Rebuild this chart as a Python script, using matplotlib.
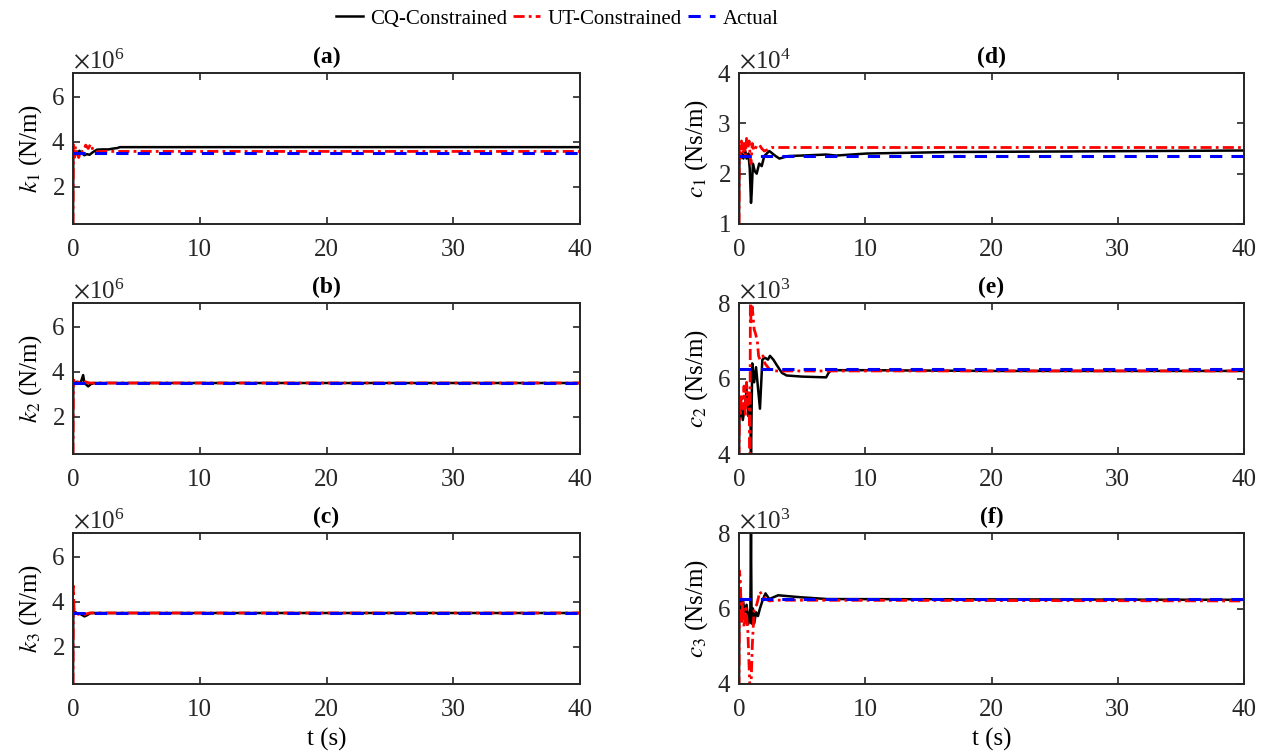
import numpy as np
import matplotlib.pyplot as plt

plt.rcParams['font.family'] = ['Liberation Serif', 'DejaVu Serif']
plt.rcParams['mathtext.fontset'] = 'stix'
plt.rcParams['axes.linewidth'] = 1.4
plt.rcParams['xtick.direction'] = 'in'
plt.rcParams['ytick.direction'] = 'in'

# time axis limits
t_end = 40

# ---- panel (a) k1, x1e6 ----
ta_cq = [0, 0.02, 0.1, 0.3, 0.5, 0.7, 0.9, 1.1, 1.3, 1.6, 1.9, 2.3, 2.8, 3.2, 3.5, 3.7, 40]
va_cq = [0.35, 3.3, 3.55, 3.45, 3.6, 3.5, 3.4, 3.45, 3.42, 3.55, 3.65, 3.66, 3.66, 3.7, 3.72, 3.76, 3.76]
ta_ut = [0, 0.03, 0.1, 0.2, 0.3, 0.45, 0.6, 0.8, 1.0, 1.2, 1.4, 1.6, 1.9, 2.3, 40]
va_ut = [0.35, 3.95, 3.3, 3.8, 3.5, 3.3, 3.6, 3.55, 3.85, 3.7, 3.9, 3.6, 3.55, 3.57, 3.57]
va_act = 3.5

# ---- panel (b) k2, x1e6 ----
tb_cq = [0, 0.02, 0.3, 0.6, 0.8, 0.9, 1.0, 1.2, 1.4, 1.7, 2.0, 40]
vb_cq = [0.35, 3.5, 3.55, 3.5, 3.85, 3.5, 3.45, 3.35, 3.45, 3.5, 3.5, 3.5]
tb_ut = [0, 0.03, 0.2, 0.4, 0.7, 1.0, 1.3, 1.6, 40]
vb_ut = [0.35, 3.65, 3.45, 3.55, 3.5, 3.55, 3.5, 3.5, 3.5]
vb_act = 3.5

# ---- panel (c) k3, x1e6 ----
tc_cq = [0, 0.02, 0.3, 0.6, 0.9, 1.1, 1.4, 1.8, 40]
vc_cq = [0.35, 3.6, 3.5, 3.45, 3.35, 3.4, 3.5, 3.5, 3.5]
tc_ut = [0, 0.03, 0.08, 0.2, 0.4, 0.7, 1.0, 1.3, 40]
vc_ut = [0.35, 4.7, 3.7, 3.55, 3.45, 3.4, 3.45, 3.5, 3.5]
vc_act = 3.5

# ---- panel (d) c1, x1e4 ----
td_cq = [0, 0.03, 0.2, 0.35, 0.5, 0.6, 0.75, 0.85, 0.95, 1.0, 1.1, 1.25, 1.4, 1.6, 1.8, 2.0,
         2.4, 2.9, 3.2, 3.9, 5.0, 6.9, 7.7, 10.1, 16.7, 25, 40]
vd_cq = [1.0, 2.35, 2.4, 2.3, 2.45, 2.3, 2.4, 2.1, 1.42, 1.6, 2.2, 2.05, 2.0, 2.2, 2.15, 2.35,
         2.45, 2.35, 2.3, 2.35, 2.36, 2.38, 2.36, 2.4, 2.43, 2.44, 2.46]
td_ut = [0, 0.02, 0.1, 0.2, 0.3, 0.4, 0.5, 0.6, 0.7, 0.8, 0.9, 0.95, 1.05, 1.2, 1.4, 1.6,
         1.8, 2.0, 2.3, 2.6, 3.0, 40]
vd_ut = [1.0, 2.6, 2.3, 2.65, 2.4, 2.6, 2.35, 2.7, 2.5, 2.65, 2.3, 2.2, 2.6, 2.45, 2.55, 2.58,
         2.5, 2.45, 2.48, 2.52, 2.52, 2.52]
vd_act = 2.35

# ---- panel (e) c2, x1e3 ----
te_cq = [0, 0.03, 0.15, 0.3, 0.47, 0.6, 0.75, 0.88, 0.95, 1.05, 1.2, 1.35, 1.66, 1.85, 2.05,
         2.3, 2.45, 2.72, 3.0, 3.4, 3.77, 5.0, 6.9, 7.1, 7.3, 10, 20, 40]
ve_cq = [3.9, 4.9, 5.3, 4.9, 5.25, 5.7, 5.0, 5.6, 3.9, 6.4, 5.9, 6.3, 5.2, 6.5, 6.55,
         6.5, 6.6, 6.5, 6.35, 6.15, 6.08, 6.05, 6.03, 6.15, 6.22, 6.22, 6.2, 6.2]
te_ut = [0, 0.03, 0.1, 0.2, 0.3, 0.4, 0.5, 0.6, 0.7, 0.8, 0.87, 0.9, 0.95, 1.05, 1.2, 1.3,
         1.45, 1.55, 1.66, 1.9, 2.05, 2.4, 2.8, 3.5, 40]
ve_ut = [3.9, 5.5, 5.0, 5.6, 5.2, 5.8, 5.0, 5.9, 5.3, 5.7, 4.0, 8.0, 7.5, 7.9, 7.3, 7.2,
         7.0, 6.6, 6.5, 6.6, 6.4, 6.25, 6.2, 6.2, 6.2]
ve_act = 6.25

# ---- panel (f) c3, x1e3 ----
tf_cq = [0, 0.03, 0.15, 0.3, 0.45, 0.6, 0.75, 0.9, 0.95, 1.0, 1.1, 1.2, 1.35, 1.5, 1.66,
         1.9, 2.1, 2.4, 3.1, 4.8, 7, 40]
vf_cq = [3.9, 6.3, 6.0, 6.25, 5.9, 6.1, 5.6, 6.0, 8.0, 5.6, 6.0, 5.6, 5.9, 5.8, 6.0,
         6.25, 6.4, 6.25, 6.35, 6.3, 6.25, 6.23]
tf_ut = [0, 0.03, 0.1, 0.2, 0.3, 0.4, 0.55, 0.7, 0.85, 0.95, 1.05, 1.2, 1.4, 1.66, 1.9,
         2.4, 3.0, 40]
vf_ut = [3.9, 7.0, 6.8, 5.6, 6.2, 5.5, 6.0, 5.4, 4.0, 3.9, 5.0, 6.0, 6.1, 6.45, 6.3,
         6.2, 6.22, 6.2]
vf_act = 6.25

panels = [
    ('(a)', r'$k_{\mathit{1}}$ (N/m)', 1e6, (0.35, 7.05), [2, 4, 6], ta_cq, va_cq, ta_ut, va_ut, va_act),
    ('(b)', r'$k_{2}$ (N/m)', 1e6, (0.35, 7.05), [2, 4, 6], tb_cq, vb_cq, tb_ut, vb_ut, vb_act),
    ('(c)', r'$k_{3}$ (N/m)', 1e6, (0.35, 7.05), [2, 4, 6], tc_cq, vc_cq, tc_ut, vc_ut, vc_act),
    ('(d)', r'$c_{\mathit{1}}$ (Ns/m)', 1e4, (1, 4), [1, 2, 3, 4], td_cq, vd_cq, td_ut, vd_ut, vd_act),
    ('(e)', r'$c_{2}$ (Ns/m)', 1e3, (4, 8), [4, 6, 8], te_cq, ve_cq, te_ut, ve_ut, ve_act),
    ('(f)', r'$c_{3}$ (Ns/m)', 1e3, (4, 8), [4, 6, 8], tf_cq, vf_cq, tf_ut, vf_ut, vf_act),
]

W, H = 1265, 756
fig = plt.figure(figsize=(W / 100, H / 100), dpi=100)

lefts = [73, 739]
rights = [580, 1244]
tops = [73, 303, 533]
ph = 151
fs = 18

for i, p in enumerate(panels):
    title, ylab, sc, ylim, yt, t1, v1, t2, v2, act = p
    col = i // 3
    row = i % 3
    x0 = lefts[col] / W
    w = (rights[col] - lefts[col]) / W
    y0 = 1 - (tops[row] + ph) / H
    ax = fig.add_axes([x0, y0, w, ph / H])

    l1, = ax.plot(t1, np.array(v1) * sc, color='black', lw=1.8, label='CQ-Constrained')
    l2, = ax.plot(t2, np.array(v2) * sc, color='red', lw=2.0, ls=(0, (4, 1.5, 1, 1.5)),
                  label='UT-Constrained')
    l3, = ax.plot([0, t_end], [act * sc, act * sc], color='blue', lw=2.2, ls=(0, (4, 3)),
                  label='Actual')

    ax.set_xlim(0, t_end)
    ax.set_xticks([0, 10, 20, 30, 40])
    ax.set_ylim(ylim[0] * sc, ylim[1] * sc)
    ax.set_yticks([v * sc for v in yt])
    ax.ticklabel_format(axis='y', style='sci', scilimits=(0, 0), useMathText=True)
    ax.yaxis.get_offset_text().set_fontsize(fs)
    ax.yaxis.get_offset_text().set_color('#262626')
    ax.tick_params(labelsize=fs, top=True, right=True, length=5, width=1.2,
                   colors='#262626', labelcolor='#262626')
    ax.tick_params(axis='x', pad=11)
    ax.tick_params(axis='y', pad=6)
    for s in ax.spines.values():
        s.set_color('#262626')
    ax.set_title(title, fontsize=17, fontweight='bold', pad=7)
    ax.set_ylabel(ylab, fontsize=fs, labelpad=5)
    if row == 2:
        ax.set_xlabel('t (s)', fontsize=fs, labelpad=5)

fig.legend([l1, l2, l3], ['CQ-Constrained', 'UT-Constrained', 'Actual'],
           loc='center', bbox_to_anchor=(557 / W, 1 - 19 / H), ncol=3, frameon=False,
           fontsize=15, handlelength=1.3, handletextpad=0.35, columnspacing=0.3,
           borderpad=0.1)

fig.savefig('out.png', dpi=100)
